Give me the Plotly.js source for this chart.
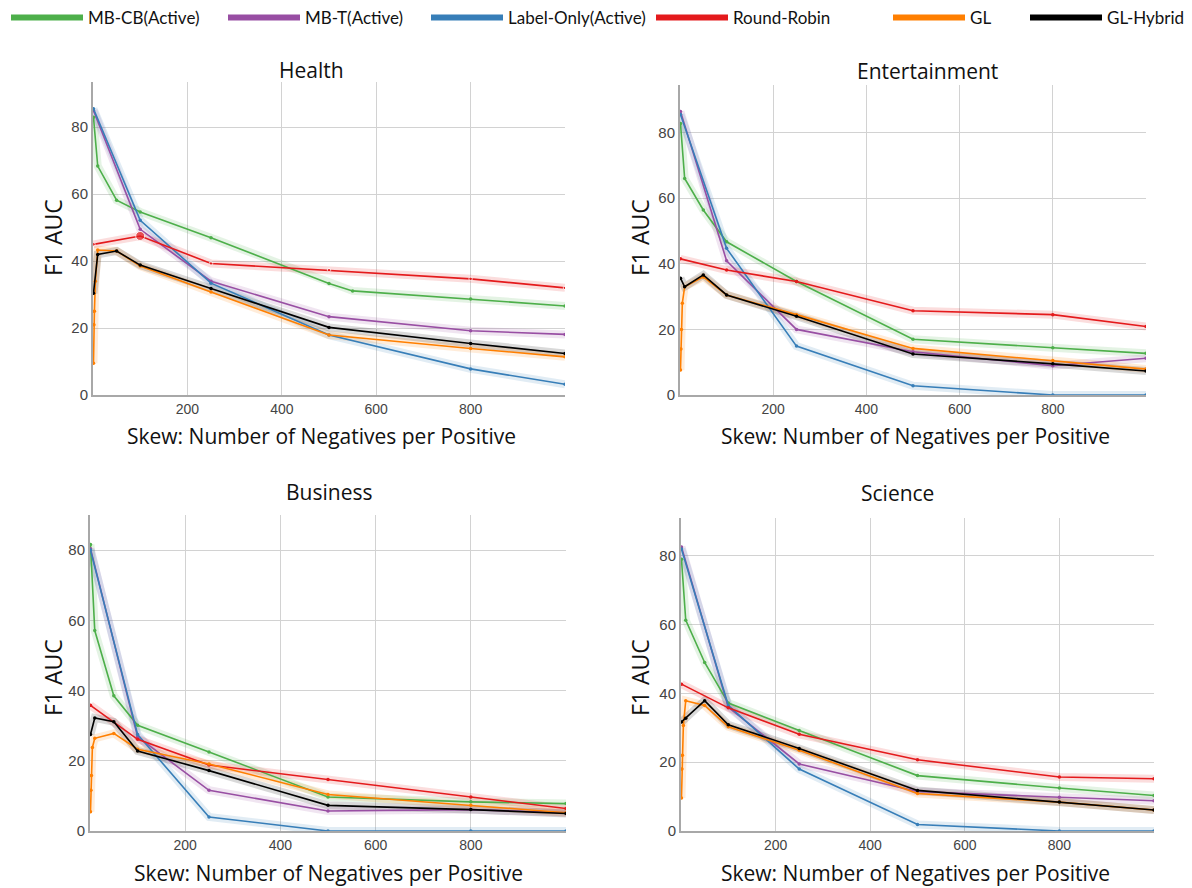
<!DOCTYPE html>
<html><head><meta charset="utf-8">
<script src="https://cdn.plot.ly/plotly-3.0.1.min.js"></script>
<style>html,body{margin:0;padding:0;background:#fff}</style>
</head><body><div id="chart" style="width:1192px;height:888px"></div>
<script>
// ---------- data ----------
const seriesNames = ['MB-CB(Active)', 'MB-T(Active)', 'Label-Only(Active)', 'Round-Robin', 'GL', 'GL-Hybrid'];
const panelTitles = ['Health', 'Entertainment', 'Business', 'Science'];
const xTickVals = [200, 400, 600, 800];
const yTickVals = [0, 20, 40, 60, 80];

const xGreen = [1, 10, 50, 100, 250, 500, 800, 1000];
const xGreenHealth = [1, 10, 50, 100, 250, 500, 550, 800, 1000];
const xActive = [1, 100, 250, 500, 800, 1000];
const xRR = [1, 100, 250, 500, 800, 1000];
const xGL = [1, 2, 3, 5, 10, 50, 100, 250, 500, 800, 1000];
const xHybrid = [1, 10, 50, 100, 250, 500, 800, 1000];

// Health
const healthMBCB = [83, 68.4, 58.2, 54.7, 47, 33.3, 31.1, 28.7, 26.6];
const healthMBT = [85, 49.5, 34, 23.4, 19.2, 18.1];
const healthLabel = [85.5, 52.2, 33.4, 17.9, 7.8, 3.2];
const healthRR = [45, 47.5, 39.3, 37.3, 34.7, 32.0];
const healthGL = [9.5, 21, 25, 34, 43.3, 43, 38.5, 30.8, 17.9, 13.9, 11.4];
const healthHybrid = [30.4, 42, 43, 38.8, 31.8, 20.2, 15.4, 12.4];
// Entertainment
const entMBCB = [82.8, 66, 56.4, 46.7, 34.6, 17, 14.4, 12.7];
const entMBT = [86.4, 40.9, 20, 13.2, 8.9, 11.2];
const entLabel = [85.5, 44.7, 14.9, 2.8, 0, 0];
const entRR = [41.5, 38.1, 34.6, 25.7, 24.5, 20.9];
const entGL = [7.6, 14, 20, 28, 33, 36, 30.5, 24.5, 14.2, 10.5, 7.9];
const entHybrid = [35.6, 33, 36.6, 30.5, 24, 12.5, 9.5, 7.3];
// Business
const busMBCB = [81.6, 57.1, 38.5, 30.1, 22.5, 9.7, 8.3, 7.8];
const busMBT = [80.4, 26.8, 11.6, 5.7, 6.1, 5.2];
const busLabel = [80, 27.5, 4, 0, 0, 0];
const busRR = [35.8, 26.1, 18.8, 14.7, 9.7, 6.4];
const busGL = [5.5, 11.6, 15.8, 23.8, 26.4, 27.8, 23.3, 19.1, 10.4, 7.3, 5.2];
const busHybrid = [27.5, 32.2, 31.1, 22.8, 17.2, 7.3, 6.1, 5.0];
// Science
const sciMBCB = [79, 61.3, 49, 37.2, 29.2, 16.1, 12.5, 10.3];
const sciMBT = [82.6, 36, 19.5, 11.5, 9.8, 8.8];
const sciLabel = [82, 36.5, 18, 1.9, 0, 0];
const sciRR = [42.7, 35.8, 28.1, 20.7, 15.7, 15.2];
const sciGL = [9.6, 18, 22, 30.7, 37.9, 36.5, 30.3, 23.5, 10.9, 8.4, 6.1];
const sciHybrid = [31.7, 32.8, 37.9, 30.9, 24, 11.8, 8.4, 6.1];

// ---------- styling / layout ----------
const W = 1192, H = 888;
const px = v => v / W;
const py = v => 1 - v / H;
const colors = ['#4daf4a', '#984ea3', '#377eb8', '#e41a1c', '#ff7f00', '#000000'];

const panels = [
  {xa: 'x',  ya: 'y',  ys: [healthMBCB, healthMBT, healthLabel, healthRR, healthGL, healthHybrid], xs: [xGreenHealth, xActive, xActive, xRR, xGL, xHybrid],
   dom: [[93, 565], [82, 395]], yr: 93.5, title: [311, 70], ytitle: [53, 238], xtitle: [321, 436]},
  {xa: 'x2', ya: 'y2', ys: [entMBCB, entMBT, entLabel, entRR, entGL, entHybrid], xs: [xGreen, xActive, xActive, xRR, xGL, xHybrid],
   dom: [[680, 1146], [85, 395]], yr: 94.5, title: [927, 71], ytitle: [640, 238], xtitle: [915, 436]},
  {xa: 'x3', ya: 'y3', ys: [busMBCB, busMBT, busLabel, busRR, busGL, busHybrid], xs: [xGreen, xActive, xActive, xRR, xGL, xHybrid],
   dom: [[90, 566], [515, 831]], yr: 90, title: [329, 492], ytitle: [53, 678], xtitle: [328, 873]},
  {xa: 'x4', ya: 'y4', ys: [sciMBCB, sciMBT, sciLabel, sciRR, sciGL, sciHybrid], xs: [xGreen, xActive, xActive, xRR, xGL, xHybrid],
   dom: [[681, 1154], [518, 831]], yr: 91, title: [897, 493], ytitle: [640, 678], xtitle: [915, 873]}
];

const traces = [];
const layout = {
  width: W, height: H, margin: {l: 0, r: 0, t: 0, b: 0},
  paper_bgcolor: '#fff', plot_bgcolor: '#fff',
  font: {family: 'Liberation Sans, Arial, sans-serif', color: '#444'},
  annotations: [], showlegend: true
};

panels.forEach((p, pi) => {
  // bands (translucent wide lines)
  p.ys.forEach((ys, si) => {
    traces.push({x: p.xs[si], y: ys, xaxis: p.xa, yaxis: p.ya, mode: 'lines', showlegend: false, hoverinfo: 'skip',
      line: {color: colors[si], width: 8}, opacity: 0.15});
  });
  p.ys.forEach((ys, si) => {
    let msize = 3.5;
    if (pi === 0 && si === 3) msize = p.xs[si].map(x => x === 100 ? 9 : 3.5);
    traces.push({x: p.xs[si], y: ys, xaxis: p.xa, yaxis: p.ya, mode: 'lines+markers', name: seriesNames[si], showlegend: false,
      line: {color: colors[si], width: 1.6}, marker: {color: colors[si], size: msize}});
  });
  const sfx = pi === 0 ? '' : String(pi + 1);
  layout['xaxis' + sfx] = {domain: [px(p.dom[0][0]), px(p.dom[0][1])], range: [0, 1000], anchor: p.ya,
    tickvals: xTickVals, showgrid: true, gridcolor: '#d2d2d2', gridwidth: 1, zeroline: false,
    showline: true, linecolor: '#a8a8a8', linewidth: 2, ticks: '', tickfont: {size: 14, color: '#444'}};
  layout['yaxis' + sfx] = {domain: [py(p.dom[1][1]), py(p.dom[1][0])], range: [0, p.yr], anchor: p.xa,
    tickvals: yTickVals, showgrid: true, gridcolor: '#d2d2d2', gridwidth: 1, zeroline: false,
    showline: true, linecolor: '#a8a8a8', linewidth: 2, ticks: '', tickfont: {size: 15, color: '#444'}};
  layout.annotations.push(
    {text: panelTitles[pi], xref: 'paper', yref: 'paper', x: px(p.title[0]), y: py(p.title[1]), xanchor: 'center', yanchor: 'middle', showarrow: false,
     font: {family: 'Open Sans, sans-serif', size: 21, color: '#111'}},
    {text: 'F1 AUC', xref: 'paper', yref: 'paper', x: px(p.ytitle[0]), y: py(p.ytitle[1]), xanchor: 'center', yanchor: 'middle', showarrow: false, textangle: -90,
     font: {family: 'Open Sans, sans-serif', size: 23, color: '#111'}},
    {text: 'Skew: Number of Negatives per Positive', xref: 'paper', yref: 'paper', x: px(p.xtitle[0]), y: py(p.xtitle[1]), xanchor: 'center', yanchor: 'middle', showarrow: false,
     font: {family: 'Open Sans, sans-serif', size: 21, color: '#111'}}
  );
});

// legend: one legend box per entry, placed along the top
const legendStarts = [6, 223, 426, 651, 888, 1025];
seriesNames.forEach((nm, si) => {
  const key = si === 0 ? 'legend' : 'legend' + (si + 1);
  traces.push({x: [null], y: [null], xaxis: 'x', yaxis: 'y', mode: 'lines', name: nm, legend: key, showlegend: true,
    line: {color: colors[si], width: 6}, hoverinfo: 'skip'});
  layout[key] = {x: px(legendStarts[si]), y: py(18), xanchor: 'left', yanchor: 'middle', orientation: 'h',
    bgcolor: 'rgba(0,0,0,0)', itemwidth: 72, font: {family: 'Lato, sans-serif', size: 17, color: '#111'}};
});

Plotly.newPlot('chart', traces, layout, {displayModeBar: false, staticPlot: true});
</script></body></html>
